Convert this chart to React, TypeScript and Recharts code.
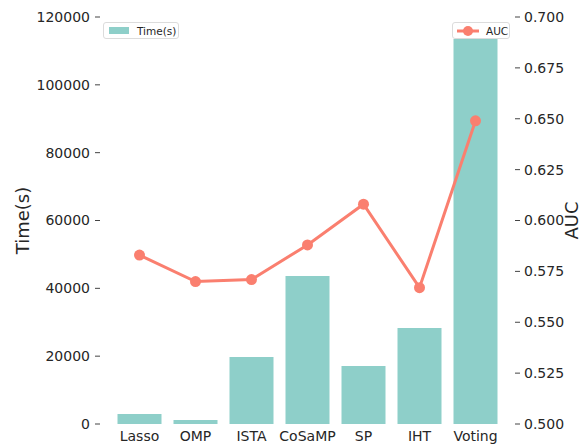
import {
  ComposedChart,
  Bar,
  Line,
  XAxis,
  YAxis,
} from "recharts";

const methods = ["Lasso", "OMP", "ISTA", "CoSaMP", "SP", "IHT", "Voting"];
const timeSec = [2950, 1200, 19750, 43600, 17100, 28300, 113500];
const auc = [0.583, 0.570, 0.571, 0.588, 0.608, 0.567, 0.649];
const timeTicks = [0, 20000, 40000, 60000, 80000, 100000, 120000];
const aucTicks = [0.5, 0.525, 0.55, 0.575, 0.6, 0.625, 0.65, 0.675, 0.7];

const data = methods.map((m, i) => ({ name: m, time: timeSec[i], auc: auc[i] }));

const FONT = "'DejaVu Sans', sans-serif";
const TEXT = "#262626";
const BAR = "#8ECFC9";
const LINE = "#FA7F6F";

const tickStyle = { fill: TEXT, fontSize: 14, fontFamily: FONT };

// rotated axis title, matplotlib style
function AxisTitle(props: any) {
  const { viewBox, value, side } = props;
  const x = side === "left" ? viewBox.x + 22 : viewBox.x + viewBox.width - 6;
  const y = viewBox.y + viewBox.height / 2;
  return (
    <text
      x={x}
      y={y}
      transform={`rotate(-90, ${x}, ${y})`}
      textAnchor="middle"
      dominantBaseline={side === "left" ? "central" : "auto"}
      fill={TEXT}
      fontSize={18}
      fontFamily={FONT}
    >
      {value}
    </text>
  );
}

const legendBox: React.CSSProperties = {
  position: "absolute",
  top: 22,
  height: 17,
  boxSizing: "border-box",
  border: "1px solid #dcdcdc",
  borderRadius: 3,
  background: "rgba(255,255,255,0.95)",
  display: "flex",
  alignItems: "center",
  fontFamily: FONT,
  fontSize: 10.5,
  color: TEXT,
};

export default function App() {
  return (
    <div style={{ position: "absolute", left: 0, top: 0, width: 584, height: 448, background: "#fff" }}>
      <ComposedChart
        width={584}
        height={448}
        data={data}
        margin={{ top: 17, right: 0, bottom: 0, left: 0 }}
      >
        <XAxis
          dataKey="name"
          height={24}
          axisLine={false}
          tickLine={false}
          tickSize={0}
          tickMargin={7}
          padding={{ left: 11.5, right: 11.5 }}
          tick={tickStyle}
          interval={0}
        />
        <YAxis
          yAxisId="time"
          orientation="left"
          width={100}
          domain={[0, 120000]}
          ticks={timeTicks}
          allowDataOverflow
          axisLine={false}
          tickSize={5}
          tickMargin={5}
          tickLine={{ stroke: "#444" }}
          tick={tickStyle}
          label={<AxisTitle value="Time(s)" side="left" />}
        />
        <YAxis
          yAxisId="auc"
          orientation="right"
          width={69}
          domain={[0.5, 0.7]}
          ticks={aucTicks}
          allowDataOverflow
          axisLine={false}
          tickSize={5}
          tickMargin={4}
          tickLine={{ stroke: "#444" }}
          tick={tickStyle}
          tickFormatter={(v: number) => v.toFixed(3)}
          label={<AxisTitle value="AUC" side="right" />}
        />
        <Bar
          yAxisId="time"
          dataKey="time"
          name="Time(s)"
          fill={BAR}
          barSize={44}
          isAnimationActive={false}
        />
        <Line
          yAxisId="auc"
          dataKey="auc"
          name="AUC"
          stroke={LINE}
          strokeWidth={3}
          dot={{ r: 5.5, fill: LINE, stroke: LINE, strokeWidth: 0 }}
          isAnimationActive={false}
        />
      </ComposedChart>

      <div style={{ ...legendBox, left: 103, width: 76 }}>
        <span style={{ display: "inline-block", width: 20, height: 7, background: BAR, marginLeft: 5, marginRight: 8 }} />
        <span>Time(s)</span>
      </div>
      <div style={{ ...legendBox, left: 452, width: 58 }}>
        <svg width={24} height={12} style={{ marginLeft: 3, marginRight: 6 }}>
          <line x1={1} y1={6} x2={23} y2={6} stroke={LINE} strokeWidth={3} />
          <circle cx={12} cy={6} r={5} fill={LINE} />
        </svg>
        <span>AUC</span>
      </div>
    </div>
  );
}
